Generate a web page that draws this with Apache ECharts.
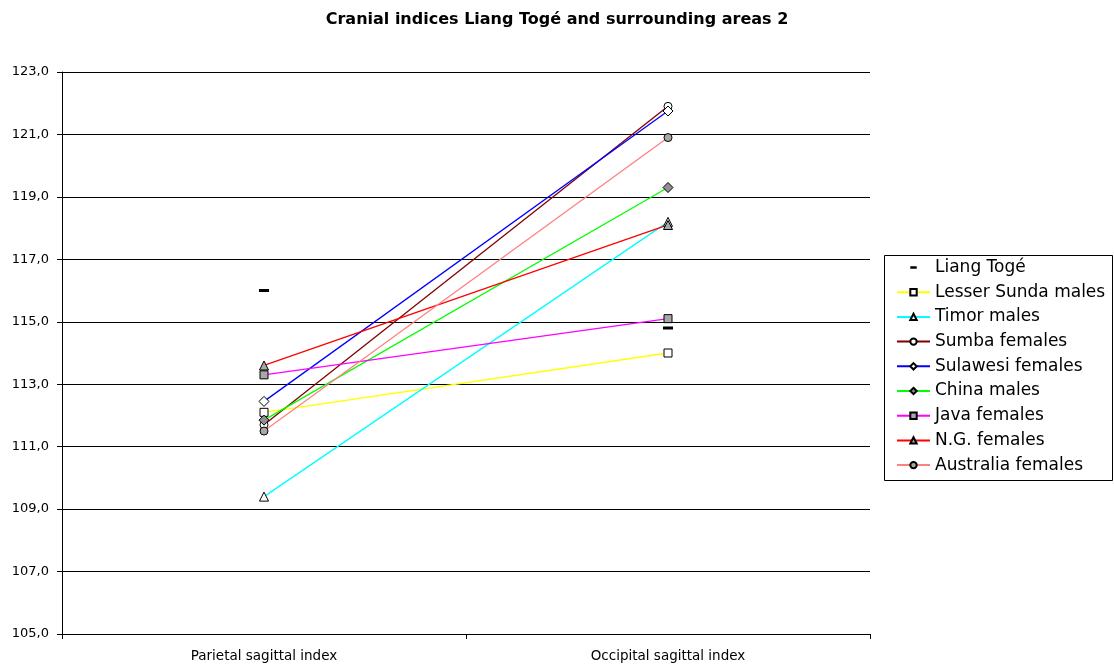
<!DOCTYPE html>
<html>
<head>
<meta charset="utf-8">
<script src="https://cdn.jsdelivr.net/npm/echarts@6/dist/echarts.min.js"></script>
<style>html,body{margin:0;padding:0;background:#fff}#c{width:1114px;height:666px}</style>
</head>
<body>
<div id="c"></div>
<script>
var categories = ['Parietal sagittal index', 'Occipital sagittal index'];
var liangToge = [116.0, 114.8];
var lesserSundaMales = [112.1, 114.0];
var timorMales = [109.4, 118.2];
var sumbaFemales = [111.7, 121.9];
var sulawesiFemales = [112.45, 121.75];
var chinaMales = [111.85, 119.3];
var javaFemales = [113.3, 115.1];
var ngFemales = [113.6, 118.1];
var australiaFemales = [111.5, 120.9];
var yTicks = {min: 105, max: 123, step: 2};

var FONT = '"DejaVu Sans", Arial, sans-serif';
var DASH = 'path://M0,0h0.01z M0,3.2h10v3.6h-10z M0,10h0.01z';
function mk(name, data, color, symbol, fill, size) {
  return {
    name: name, type: 'line', data: data,
    symbol: symbol, symbolSize: size || 8,
    lineStyle: {color: color, width: 1.3},
    itemStyle: {color: fill, borderColor: '#000', borderWidth: 1},
    color: color,
    emphasis: {disabled: true}, animation: false, z: 3
  };
}
var series = [
  {
    name: 'Liang Togé', type: 'line', data: liangToge,
    symbol: DASH, symbolSize: [10, 8],
    lineStyle: {width: 0, opacity: 0},
    itemStyle: {color: '#000', borderWidth: 0},
    emphasis: {disabled: true}, animation: false, z: 4
  },
  mk('Lesser Sunda males', lesserSundaMales, '#FFFF00', 'rect', '#fff', 8),
  mk('Timor males', timorMales, '#00FFFF', 'triangle', '#fff', 9),
  mk('Sumba females', sumbaFemales, '#800000', 'circle', '#fff', 8),
  mk('Sulawesi females', sulawesiFemales, '#0000FF', 'diamond', '#fff', 10),
  mk('China males', chinaMales, '#00FF00', 'diamond', '#909090', 10),
  mk('Java females', javaFemales, '#FF00FF', 'rect', '#A8A8A8', 8),
  mk('N.G. females', ngFemales, '#FF0000', 'triangle', '#A8A8A8', 9),
  mk('Australia females', australiaFemales, '#FF8080', 'circle', '#A8A8A8', 8)
];

var chart = echarts.init(document.getElementById('c'), null, {renderer: 'canvas'});
chart.setOption({
  animation: false,
  backgroundColor: '#fff',
  title: {
    text: 'Cranial indices Liang Togé and surrounding areas 2',
    left: 'center', top: 7,
    textStyle: {fontFamily: FONT, fontSize: 16, fontWeight: 'bold', color: '#000'}
  },
  grid: {left: 62, right: 244, top: 72, bottom: 32, containLabel: false},
  xAxis: {
    type: 'category', data: categories, boundaryGap: true,
    axisLine: {lineStyle: {color: '#000', width: 1}},
    axisTick: {show: true, alignWithLabel: false, length: 5, lineStyle: {color: '#000'}},
    axisLabel: {fontFamily: FONT, fontSize: 13.5, color: '#000', margin: 15},
    splitLine: {show: false}
  },
  yAxis: {
    type: 'value', min: yTicks.min, max: yTicks.max, interval: yTicks.step,
    axisLine: {show: true, lineStyle: {color: '#000', width: 1}},
    axisTick: {show: true, length: 5, lineStyle: {color: '#000'}},
    axisLabel: {fontFamily: FONT, fontSize: 13, color: '#000', margin: 13,
      formatter: function (v) { return v.toFixed(1).replace('.', ','); }},
    splitLine: {show: true, lineStyle: {color: '#000', width: 1}}
  },
  legend: {
    orient: 'vertical', left: 891, top: 254,
    itemWidth: 33, itemHeight: 8, itemGap: 7.7,
    textStyle: {fontFamily: FONT, fontSize: 17, color: '#000', lineHeight: 17},
    inactiveColor: '#000',
    selectedMode: false,
    data: series.map(function (s) { return s.name; })
  },
  graphic: [{
    type: 'rect', left: 882, top: 253,
    shape: {width: 228, height: 225},
    style: {fill: 'none', stroke: '#000', lineWidth: 1}, z: 0
  }],
  series: series
});
</script>
</body>
</html>
